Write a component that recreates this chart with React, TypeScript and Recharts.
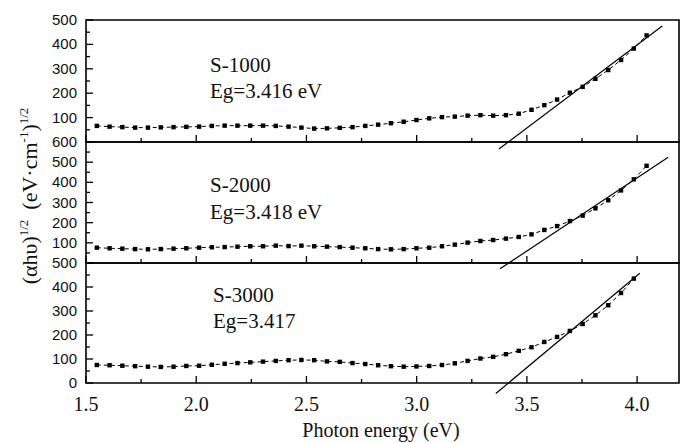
import React from "react";
import { LineChart, Line, XAxis, YAxis, ReferenceArea, ReferenceLine } from "recharts";

// photon energy grid (eV)
const energy = [
  1.549, 1.607, 1.665, 1.723, 1.781, 1.839, 1.897, 1.955, 2.013, 2.071,
  2.129, 2.187, 2.245, 2.303, 2.361, 2.419, 2.477, 2.535, 2.593, 2.651,
  2.709, 2.767, 2.825, 2.883, 2.941, 2.999, 3.057, 3.115, 3.173, 3.231,
  3.289, 3.347, 3.405, 3.463, 3.521, 3.579, 3.637, 3.695, 3.753, 3.811,
  3.869, 3.927, 3.985, 4.043,
];

const s1000 = [
  66, 63, 61, 59, 59, 60, 61, 62, 63, 66,
  67, 67, 67, 67, 66, 63, 59, 55, 56, 58,
  61, 66, 71, 77, 83, 90, 97, 102, 104, 108,
  110, 108, 110, 116, 132, 151, 174, 202, 226, 259,
  295, 336, 383, 437,
];

const s2000 = [
  76, 73, 71, 69, 68, 69, 71, 73, 76, 78,
  79, 81, 83, 83, 86, 84, 86, 83, 81, 79,
  76, 73, 69, 68, 69, 73, 76, 83, 91, 101,
  109, 114, 121, 129, 142, 164, 183, 208, 235, 271,
  311, 360, 415, 482,
];

const s3000 = [
  75, 74, 72, 70, 68, 67, 68, 71, 72, 76,
  80, 83, 86, 89, 92, 95, 96, 95, 90, 88,
  83, 79, 74, 70, 68, 69, 71, 75, 82, 92,
  102, 109, 120, 134, 149, 171, 192, 217, 246, 282,
  324, 375, 435,
];

// linear fits (end points of the extrapolated lines)
const fit1000 = [{ x: 3.373, y: -29 }, { x: 4.114, y: 475 }];
const fit2000 = [{ x: 3.378, y: -29 }, { x: 4.141, y: 524 }];
const fit3000 = [{ x: 3.359, y: -44 }, { x: 4.012, y: 457 }];

const xTicks = [1.5, 1.75, 2.0, 2.25, 2.5, 2.75, 3.0, 3.25, 3.5, 3.75, 4.0];
const yTicks500 = [0, 50, 100, 150, 200, 250, 300, 350, 400, 450, 500];
const yTicks600 = [0, 50, 100, 150, 200, 250, 300, 350, 400, 450, 500, 550, 600];

const X_DOMAIN: [number, number] = [1.5, 4.19];
const SERIF = "'Liberation Serif', 'Times New Roman', serif";
const SANS = "'Liberation Sans', Arial, sans-serif";

const toRows = (vals: number[]) => vals.map((v, i) => ({ e: energy[i], v }));

const XTick = (props: any) => {
  const { x, y, payload, showLabel } = props;
  const val = payload.value as number;
  const major = Math.abs(val * 2 - Math.round(val * 2)) < 1e-6;
  return (
    <g>
      <line x1={x} y1={y} x2={x} y2={y - (major ? 7 : 4)} stroke="#000" strokeWidth={1.3} />
      {showLabel && major && (
        <text x={x} y={y + 28} textAnchor="middle" fontFamily={SERIF} fontSize={20} fill="#111">
          {val.toFixed(1)}
        </text>
      )}
    </g>
  );
};

const YTick = (props: any) => {
  const { x, y, payload, hideZero } = props;
  const val = payload.value as number;
  const major = val % 100 === 0;
  return (
    <g>
      <line x1={x} y1={y} x2={x + (major ? 7 : 4)} y2={y} stroke="#000" strokeWidth={1.3} />
      {major && !(hideZero && val === 0) && (
        <text x={x - 9} y={y} dy={5} textAnchor="end" fontFamily={SANS} fontSize={15} fill="#111">
          {val}
        </text>
      )}
    </g>
  );
};

const square = (props: any) => {
  const { cx, cy, index } = props;
  if (cx == null || cy == null) return <g key={index} />;
  return <rect key={index} x={cx - 2.2} y={cy - 2.2} width={4.4} height={4.4} fill="#000" />;
};

interface PanelProps {
  values: number[];
  fit: { x: number; y: number }[];
  yMax: number;
  yTicks: number[];
  top: number;
  height: number;
  bottom: number;
  last?: boolean;
}

const Panel: React.FC<PanelProps> = ({ values, fit, yMax, yTicks, top, height, bottom, last }) => (
  <div style={{ position: "absolute", left: 0, top }}>
    <LineChart
      width={681}
      height={height}
      data={toRows(values)}
      margin={{ top: 20, right: 2, bottom: 0, left: 0 }}
    >
      <XAxis
        dataKey="e"
        type="number"
        domain={X_DOMAIN}
        ticks={xTicks}
        interval={0}
        height={bottom}
        axisLine={false}
        tickLine={false}
        tickSize={0}
        tickMargin={0}
        tick={<XTick showLabel={!!last} />}
      />
      <YAxis
        type="number"
        domain={[0, yMax]}
        ticks={yTicks}
        interval={0}
        width={86}
        axisLine={false}
        tickLine={false}
        tickSize={0}
        tickMargin={0}
        tick={<YTick hideZero={!last} />}
      />
      <ReferenceArea x1={X_DOMAIN[0]} x2={X_DOMAIN[1]} y1={0} y2={yMax} fill="none" stroke="#000" strokeWidth={1.6} />
      <Line
        dataKey="v"
        stroke="#000"
        strokeWidth={1}
        strokeDasharray="4 3"
        dot={square}
        isAnimationActive={false}
      />
      <ReferenceLine segment={fit} stroke="#000" strokeWidth={1.2} ifOverflow="visible" />
    </LineChart>
  </div>
);

const App: React.FC = () => (
  <div style={{ position: "absolute", left: 0, top: 0, width: 681, height: 443, background: "#fff" }}>
    <Panel values={s1000} fit={fit1000} yMax={500} yTicks={yTicks500} top={0} height={160} bottom={18} />
    <Panel values={s2000} fit={fit2000} yMax={600} yTicks={yTicks600} top={122} height={160} bottom={19} />
    <Panel values={s3000} fit={fit3000} yMax={500} yTicks={yTicks500} top={243} height={200} bottom={60} last />
    <svg
      width={681}
      height={443}
      style={{ position: "absolute", left: 0, top: 0, pointerEvents: "none" }}
    >
      <g fontFamily={SERIF} fontSize={21} fill="#111">
        <text x={210} y={72}>S-1000</text>
        <text x={210} y={98}>Eg=3.416 eV</text>
        <text x={210} y={192}>S-2000</text>
        <text x={210} y={219}>Eg=3.418 eV</text>
        <text x={213} y={302}>S-3000</text>
        <text x={213} y={328}>Eg=3.417</text>
      </g>
      <text x={381} y={437} textAnchor="middle" fontFamily={SERIF} fontSize={20} fill="#111">
        Photon energy (eV)
      </text>
      <text
        transform="translate(37,196) rotate(-90)"
        textAnchor="middle"
        fontFamily={SERIF}
        fontSize={22}
        fill="#111"
      >
        (αhυ)
        <tspan dy={-9} fontSize={13}>1/2</tspan>
        <tspan dy={9} dx={10}>(eV·cm</tspan>
        <tspan dy={-9} fontSize={13}>-1</tspan>
        <tspan dy={9}>)</tspan>
        <tspan dy={-9} fontSize={13}>1/2</tspan>
      </text>
    </svg>
  </div>
);

export default App;
